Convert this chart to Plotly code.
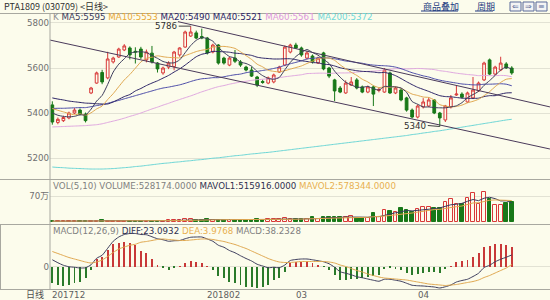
import plotly.graph_objects as go

# ---------------- data ----------------
idx = list(range(84))
opens = [5436,5358,5366,5378,5400,5413,5395,5489,5533,5580,
         5556,5627,5649,5680,5689,5674,5684,5636,5666,5622,
         5578,5604,5606,5658,5693,5742,5756,5740,5733,5671,
         5702,5644,5613,5644,5627,5604,5591,5560,5540,5533,
         5538,5582,5613,5671,5702,5689,5644,5653,5622,5667,
         5600,5547,5511,5489,5524,5547,5516,5493,5516,5500,
         5493,5578,5489,5502,5467,5413,5382,5427,5431,5458,
         5400,5369,5427,5480,5484,5449,5467,5498,5547,5636,
         5573,5591,5618,5600]
highs = [5452,5380,5388,5406,5422,5420,5402,5516,5584,5592,
         5672,5650,5690,5706,5696,5692,5694,5682,5698,5626,
         5606,5630,5676,5692,5766,5786,5766,5775,5738,5708,
         5706,5650,5650,5680,5635,5610,5606,5565,5548,5562,
         5575,5610,5700,5708,5712,5695,5675,5660,5650,5672,
         5605,5552,5520,5545,5560,5555,5522,5522,5522,5512,
         5600,5584,5518,5508,5472,5420,5438,5466,5470,5462,
         5405,5436,5480,5520,5492,5495,5560,5540,5628,5642,
         5610,5650,5626,5608]
lows = [5348,5350,5360,5372,5395,5390,5358,5484,5530,5528,
        5550,5620,5645,5675,5638,5620,5640,5625,5620,5580,
        5570,5595,5590,5650,5690,5738,5728,5728,5660,5665,
        5615,5615,5608,5622,5605,5585,5560,5515,5530,5528,
        5532,5578,5608,5665,5685,5650,5638,5620,5618,5590,
        5555,5453,5488,5485,5520,5505,5488,5488,5431,5492,
        5490,5485,5484,5452,5406,5376,5376,5420,5426,5395,
        5340,5360,5420,5476,5465,5445,5462,5494,5542,5568,
        5568,5586,5596,5570]
closes = [5360,5372,5380,5400,5413,5395,5366,5511,5578,5538,
          5640,5644,5684,5698,5658,5671,5649,5671,5627,5596,
          5600,5622,5671,5689,5760,5760,5733,5733,5667,5702,
          5622,5622,5644,5630,5613,5591,5564,5524,5536,5556,
          5569,5604,5693,5702,5689,5658,5667,5627,5644,5596,
          5564,5498,5493,5533,5538,5511,5493,5516,5484,5505,
          5591,5489,5511,5458,5413,5382,5431,5449,5458,5400,
          5378,5431,5467,5484,5470,5489,5502,5533,5622,5573,
          5604,5622,5600,5578]

ma5 = [5400,5390,5385,5383,5385,5392,5391,5417,5453,5478,
       5527,5582,5617,5641,5665,5671,5672,5669,5655,5643,
       5629,5623,5623,5636,5668,5700,5723,5735,5731,5719,
       5691,5669,5651,5644,5626,5620,5608,5584,5566,5554,
       5550,5558,5592,5625,5651,5669,5682,5669,5657,5638,
       5620,5586,5559,5537,5525,5515,5514,5518,5508,5502,
       5518,5517,5516,5511,5492,5451,5439,5427,5427,5424,
       5423,5423,5427,5432,5446,5468,5482,5496,5523,5544,
       5567,5591,5604,5595]
ma10 = [5420,5412,5405,5398,5392,5396,5390,5401,5418,5431,
        5460,5486,5517,5547,5571,5599,5627,5643,5648,5654,
        5650,5647,5646,5645,5655,5664,5673,5679,5683,5693,
        5695,5696,5693,5687,5672,5655,5638,5617,5605,5590,
        5585,5583,5588,5595,5602,5609,5620,5630,5641,5644,
        5644,5634,5614,5597,5581,5567,5550,5538,5522,5513,
        5516,5515,5517,5509,5497,5484,5478,5471,5469,5458,
        5437,5431,5427,5429,5435,5445,5452,5461,5477,5495,
        5517,5536,5550,5553]
ma20 = [5467,5462,5458,5453,5450,5447,5444,5443,5441,5440,
        5440,5449,5461,5473,5482,5498,5509,5522,5533,5543,
        5555,5567,5582,5596,5613,5632,5650,5661,5666,5674,
        5673,5672,5670,5666,5664,5660,5656,5648,5644,5642,
        5640,5640,5641,5641,5637,5632,5629,5624,5623,5617,
        5615,5609,5601,5596,5592,5588,5585,5584,5582,5579,
        5580,5575,5566,5553,5539,5526,5514,5505,5496,5486,
        5477,5473,5472,5469,5466,5465,5465,5466,5473,5477,
        5477,5484,5489,5490]
ma40 = [5420,5421,5421,5422,5423,5424,5424,5428,5433,5437,
        5443,5450,5456,5463,5470,5477,5484,5491,5498,5505,
        5511,5515,5520,5525,5532,5540,5547,5552,5554,5557,
        5557,5561,5566,5570,5573,5579,5583,5585,5589,5593,
        5598,5604,5612,5619,5625,5632,5640,5643,5645,5646,
        5644,5641,5636,5631,5628,5624,5621,5616,5613,5611,
        5610,5608,5604,5597,5588,5579,5572,5565,5560,5552,
        5546,5541,5537,5533,5529,5527,5525,5525,5528,5528,
        5529,5530,5528,5521]
ma60 = [5338,5339,5340,5341,5342,5343,5344,5346,5348,5352,
        5358,5364,5370,5377,5385,5392,5400,5409,5418,5426,
        5435,5443,5452,5460,5468,5476,5485,5494,5502,5510,
        5517,5522,5528,5533,5538,5541,5545,5548,5550,5552,
        5554,5557,5561,5564,5567,5570,5575,5576,5577,5577,
        5576,5577,5578,5578,5579,5582,5584,5585,5586,5588,
        5592,5594,5597,5597,5596,5597,5598,5597,5595,5593,
        5588,5585,5581,5577,5574,5571,5569,5566,5567,5566,
        5566,5567,5566,5561]
ma200 = [5160,5158,5157,5155,5154,5153,5152,5151,5151,5151,
         5152,5153,5155,5157,5159,5162,5164,5167,5170,5173,
         5176,5178,5181,5183,5186,5188,5191,5193,5196,5199,
         5201,5204,5207,5210,5212,5215,5218,5220,5223,5225,
         5228,5231,5234,5237,5240,5243,5246,5249,5252,5255,
         5258,5261,5264,5267,5270,5273,5276,5279,5282,5285,
         5288,5291,5294,5297,5300,5304,5307,5311,5314,5318,
         5321,5325,5329,5333,5337,5341,5345,5349,5353,5357,
         5361,5365,5369,5372]

# trend channel lines (candle index, price)
trend_upper_x = [22.7, 89.9]
trend_upper_y = [5806, 5427]
trend_lower_x = [-0.4, 89.9]
trend_lower_y = [5724, 5240]

# volume, in thousands of lots
volume_k = [18,15,20,18,22,20,25,40,35,45,
            38,30,28,32,30,26,30,28,35,40,
            38,45,55,50,75,80,65,60,70,62,
            58,60,55,65,60,58,62,75,60,70,
            78,85,111,70,70,70,85,148,85,148,
            130,130,130,130,174,111,111,111,233,148,
            320,285,259,370,320,259,345,407,407,370,
            370,544,630,474,492,648,780,474,810,620,
            460,470,502,528.174]
mavol1_k = [20,19,18,18,19,19,21,25,28,33,
            37,38,35,35,32,29,29,29,30,32,
            34,37,43,46,53,61,65,66,70,67,
            63,62,61,60,60,60,60,64,63,65,
            69,74,81,83,83,81,81,89,92,107,
            119,128,125,134,139,135,131,127,148,143,
            185,219,249,276,311,299,311,340,348,358,
            380,420,464,478,502,558,605,574,641,666,
            629,567,572,515.916]
mavol2_k = [22,22,21,21,20,20,20,22,23,26,
            28,30,30,32,33,33,34,32,33,32,
            32,33,36,38,43,48,51,55,58,60,
            62,64,64,65,64,62,61,63,62,63,
            65,67,73,73,74,75,78,85,88,95,
            100,105,107,113,123,127,130,126,141,141,
            160,175,188,212,227,242,265,295,312,335,
            340,366,402,413,430,469,513,519,560,584,
            594,586,573,578.344]

diff = [13.5,7.5,2.5,-0.5,-1.5,-3,-2.5,3.5,16.5,22.5,
        36.5,50.5,59,64,66,66,64,63.5,59.5,55.5,
        53.5,50.5,51.5,52,55.5,58.5,59,59,55,50.5,
        42.5,38.5,32,27.5,21.5,16,11,4.5,1,-2.5,
        -1.5,-2.5,3,12,14,15,15,13.5,11.5,9.5,
        5.5,-1.5,-10.5,-13.5,-16.5,-20.5,-22.5,-25,-27.5,-29.5,
        -25.5,-25.5,-27.5,-29.5,-33.5,-37.5,-38.5,-39,-40,-41,
        -43,-40.5,-37,-31,-28,-25.5,-20,-13.5,-2,2.5,
        9.5,14.5,18.5,23.0932]
dea = [30,26,22,18,15,12,9,7,9,13,
       20,28,35,39,42.5,44.5,48.5,50,52,54,
       55,54,53,52,52,53,54,55,55,54,
       52,50,47,44,40,36,31,26,21,16,
       12,9,8,8,9,10,10,10,10,10,
       9,7,3,0,-4,-8,-11,-15,-18,-21,
       -23,-24,-25,-26,-27,-29,-31,-33,-35,-36,
       -37,-38,-37,-36,-34,-32,-30,-27,-22,-18,
       -13,-8,-3,3.9768]
macd = [-33,-37,-39,-37,-33,-30,-23,-7,15,19,
        33,45,48,50,47,43,31,27,15,3,
        -3,-7,-3,0.5,7,11,10,8,0.5,-7,
        -19,-23,-30,-33,-37,-40,-40,-43,-40,-37,
        -27,-23,-10,8,10,10,10,7,3,-1,
        -7,-17,-27,-27,-25,-25,-23,-20,-19,-17,
        -5,-3,-5,-7,-13,-17,-15,-12,-10,-10,
        -12,-5,0.5,10,12,13,20,27,40,41,
        45,45,43,38.2328]

month_labels = ["201712", "201802", "03", "04"]
month_index = [0, 28, 44, 66]
high_mark = (25, 5786)
low_mark = (70, 5340)

# ---------------- styling ----------------
W, H = 550, 300
BG = '#fcfcec'
RED = '#d83838'
GREEN = '#187818'
C_MA5 = '#3c3c5c'
C_MA10 = '#e0a850'
C_MA20 = '#2c2466'
C_MA40 = '#4c4ca8'
C_MA60 = '#e0a8e0'
C_MA200 = '#6cd6d6'
C_TREND = '#4a3a5a'
BORDER = '#a8a8a0'
GRID = '#e2e2d4'
FONT = 'DejaVu Sans, Noto Sans CJK SC'


def PX(x):
    return (x - 50) / 500.0


def PY(y):
    return 1 - y / 300.0


fig = go.Figure()

# main panel
fig.add_trace(go.Candlestick(
    x=idx, open=opens, high=highs, low=lows, close=closes,
    increasing=dict(line=dict(color=RED, width=1), fillcolor=BG),
    decreasing=dict(line=dict(color=GREEN, width=1), fillcolor=GREEN),
    xaxis='x', yaxis='y', showlegend=False, hoverinfo='skip'))

for arr, col in [(ma200, C_MA200), (ma60, C_MA60), (ma40, C_MA40),
                 (ma20, C_MA20), (ma10, C_MA10), (ma5, C_MA5)]:
    fig.add_trace(go.Scatter(x=idx, y=arr, mode='lines',
                             line=dict(color=col, width=1, shape='spline', smoothing=0.6),
                             xaxis='x', yaxis='y', showlegend=False, hoverinfo='skip'))

for tx, ty in [(trend_upper_x, trend_upper_y), (trend_lower_x, trend_lower_y)]:
    fig.add_trace(go.Scatter(x=tx, y=ty, mode='lines', line=dict(color=C_TREND, width=1),
                             xaxis='x', yaxis='y', showlegend=False, hoverinfo='skip'))

# volume panel
up = [c >= o for o, c in zip(opens, closes)]
fig.add_trace(go.Bar(
    x=idx, y=volume_k, width=0.66,
    marker=dict(color=[BG if u else GREEN for u in up],
                line=dict(color=[RED if u else GREEN for u in up], width=1)),
    xaxis='x2', yaxis='y2', showlegend=False, hoverinfo='skip'))
fig.add_trace(go.Scatter(x=idx, y=mavol1_k, mode='lines', line=dict(color=C_MA5, width=1),
                         xaxis='x2', yaxis='y2', showlegend=False, hoverinfo='skip'))
fig.add_trace(go.Scatter(x=idx, y=mavol2_k, mode='lines', line=dict(color=C_MA10, width=1),
                         xaxis='x2', yaxis='y2', showlegend=False, hoverinfo='skip'))

# MACD panel
fig.add_trace(go.Bar(
    x=idx, y=macd, width=0.17,
    marker=dict(color=['#c83838' if v >= 0 else '#2a7a2a' for v in macd], line=dict(width=0)),
    xaxis='x3', yaxis='y3', showlegend=False, hoverinfo='skip'))
fig.add_trace(go.Scatter(x=idx, y=diff, mode='lines',
                         line=dict(color=C_MA5, width=1, shape='spline', smoothing=0.6),
                         xaxis='x3', yaxis='y3', showlegend=False, hoverinfo='skip'))
fig.add_trace(go.Scatter(x=idx, y=dea, mode='lines',
                         line=dict(color=C_MA10, width=1, shape='spline', smoothing=0.6),
                         xaxis='x3', yaxis='y3', showlegend=False, hoverinfo='skip'))

xr = [-0.42, 89.91]
xcommon = dict(range=xr, showgrid=False, zeroline=False, showticklabels=False,
               showline=False, ticks='', fixedrange=True)
ycommon = dict(showgrid=True, gridcolor=GRID, gridwidth=1, zeroline=False, showline=False,
               ticks='', tickfont=dict(size=8.7, color='#707070', family=FONT))

fig.update_layout(
    width=W, height=H,
    margin=dict(l=50, r=0, t=0, b=0, autoexpand=False),
    paper_bgcolor=BG, plot_bgcolor=BG,
    font=dict(family=FONT, size=9, color='#606060'),
    bargap=0,
    xaxis=dict(xcommon, anchor='y', rangeslider=dict(visible=False)),
    xaxis2=dict(xcommon, anchor='y2', matches='x'),
    xaxis3=dict(xcommon, anchor='y3', matches='x'),
    yaxis=dict(ycommon, domain=[PY(179), PY(13)], range=[5106.7, 5844.4],
               tickvals=[5200, 5400, 5600, 5800]),
    yaxis2=dict(ycommon, domain=[PY(224), PY(180)], range=[-54, 1131],
                tickvals=[700], ticktext=['70万']),
    yaxis3=dict(ycommon, domain=[PY(289), PY(225)], range=[-45, 83],
                tickvals=[0], ticktext=['0']),
)

shapes = []
def hline(y, x0=0, x1=550, color=BORDER):
    shapes.append(dict(type='line', xref='paper', yref='paper', x0=PX(x0), x1=PX(x1),
                       y0=PY(y), y1=PY(y), line=dict(color=color, width=1)))
def vline(x, y0, y1, color=BORDER):
    shapes.append(dict(type='line', xref='paper', yref='paper', x0=PX(x), x1=PX(x),
                       y0=PY(y0), y1=PY(y1), line=dict(color=color, width=1)))

hline(13.5)
hline(179.5)
hline(224.5)
hline(289.5)
vline(50, 13.5, 289.5)
vline(0.5, 224.5, 289.5)
# link underlines
hline(11, 421, 458, '#203a80')
hline(11, 475, 493, '#203a80')
# icons
for x0 in [510, 523, 536]:
    shapes.append(dict(type='rect', xref='paper', yref='paper', x0=PX(x0), x1=PX(x0 + 11),
                       y0=PY(11), y1=PY(2), line=dict(color='#5a6a9a', width=1),
                       fillcolor='#f4f4f4'))

ann = []
def text(x, y, t, size=8.7, color='#606060', anchor='left', family=FONT):
    ann.append(dict(xref='paper', yref='paper', x=PX(x), y=PY(y), text=t, showarrow=False,
                    xanchor=anchor, yanchor='middle',
                    font=dict(size=size, color=color, family=family)))

def sp(t, c):
    return f'<span style="color:{c}">{t}</span>'

text(2, 6.5, 'PTA1809 (030709) &lt;日线&gt;', size=9, color='#303030',
     family='Noto Sans CJK SC')
text(421, 6, '商品叠加', size=9, color='#203a80', family='Noto Sans CJK SC')
text(475, 6, '周期', size=9, color='#203a80', family='Noto Sans CJK SC')
for x0, g in [(510, '⇐'), (523, '⇒'), (536, '≡')]:
    text(x0 + 5.5, 6.5, g, size=8, color='#5a6a9a', anchor='center')

main_hdr = ' '.join([sp('K', '#909090'), sp('MA5:%d' % ma5[-1], C_MA5),
                     sp('MA10:%d' % ma10[-1], '#e8a838'), sp('MA20:%d' % ma20[-1], C_MA20),
                     sp('MA40:%d' % ma40[-1], C_MA20), sp('MA60:%d' % ma60[-1], '#dc98dc'),
                     sp('MA200:%d' % ma200[-1], '#70d8d8')])
text(51, 16.5, main_hdr)
vol_hdr = ' '.join([sp('VOL(5,10) VOLUME:%.4f' % (volume_k[-1] * 1000), '#808080'),
                    sp('MAVOL1:%.4f' % (mavol1_k[-1] * 1000), '#303050'),
                    sp('MAVOL2:%.4f' % (mavol2_k[-1] * 1000), '#e8b050')])
text(51, 185.5, vol_hdr)
macd_hdr = ' '.join([sp('MACD(12,26,9)', '#808080'), sp('DIFF:%.4f' % diff[-1], '#303050'),
                     sp('DEA:%.4f' % dea[-1], '#e8b050'), sp('MACD:%.4f' % macd[-1], '#808080')])
text(51, 230.5, macd_hdr)

text(46, 294.5, '日线', size=9, color='#505050', anchor='right', family='Noto Sans CJK SC')
for lab, mi in zip(month_labels, month_index):
    ann.append(dict(xref='x3', yref='paper', x=mi, y=PY(294.5), text=lab, showarrow=False,
                    xanchor='left', yanchor='middle', xshift=-2,
                    font=dict(size=8.7, color='#606060', family=FONT)))

for (mx, my), dy in [(high_mark, 0), (low_mark, -1)]:
    ann.append(dict(xref='x', yref='y', x=mx, y=my, text=str(my), showarrow=True,
                    arrowhead=0, arrowwidth=1, arrowcolor='#404040', ax=-12, ay=dy,
                    xanchor='right', yanchor='middle', standoff=0,
                    font=dict(size=8.7, color='#303030', family=FONT)))

fig.update_layout(shapes=shapes, annotations=ann)
fig.write_html('out.html')
